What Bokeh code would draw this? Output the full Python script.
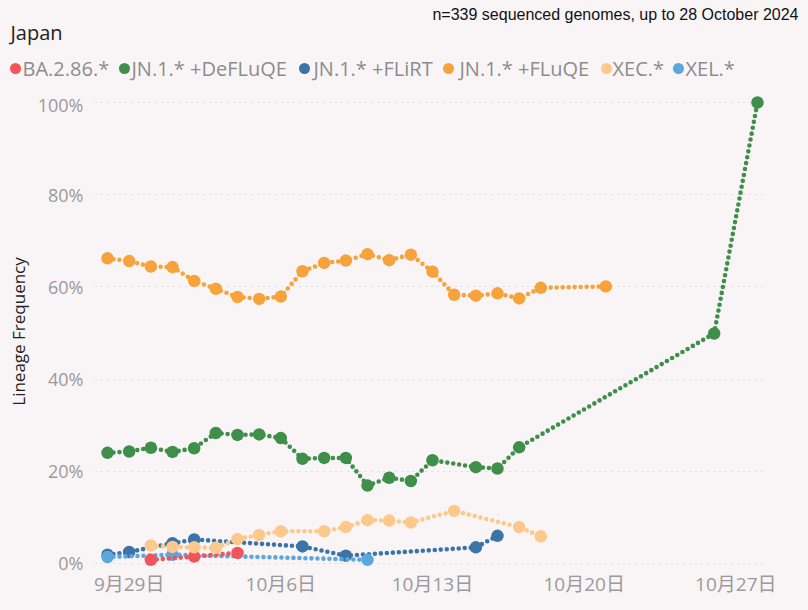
import pandas as pd
from bokeh.plotting import figure
from bokeh.layouts import column
from bokeh.models import Range1d, FixedTicker, CustomJSTickFormatter, PrintfTickFormatter
from bokeh.core.properties import value
from bokeh.embed import file_html
from bokeh.resources import INLINE

# ---------------- data ----------------
lineages = ["BA.2.86.*", "JN.1.* +DeFLuQE", "JN.1.* +FLiRT", "JN.1.* +FLuQE", "XEC.*", "XEL.*"]
colors = ["#f2545b", "#3f8f4a", "#3b75a7", "#f6a33c", "#fcc98b", "#5ba7de"]

ba286_dates = ["2024-09-30", "2024-10-02", "2024-10-04"]
ba286_vals = [0.8, 1.5, 2.3]

defluqe_dates = ["2024-09-28", "2024-09-29", "2024-09-30", "2024-10-01", "2024-10-02", "2024-10-03",
                 "2024-10-04", "2024-10-05", "2024-10-06", "2024-10-07", "2024-10-08", "2024-10-09",
                 "2024-10-10", "2024-10-11", "2024-10-12", "2024-10-13", "2024-10-15", "2024-10-16",
                 "2024-10-17", "2024-10-26", "2024-10-28"]
defluqe_vals = [24.0, 24.3, 25.1, 24.2, 25.0, 28.3, 27.9, 28.0, 27.2, 22.7, 22.9, 22.9,
                16.9, 18.6, 17.9, 22.4, 20.9, 20.6, 25.2, 49.9, 100.0]

flirt_dates = ["2024-09-28", "2024-09-29", "2024-10-01", "2024-10-02", "2024-10-07", "2024-10-09",
               "2024-10-15", "2024-10-16"]
flirt_vals = [1.9, 2.5, 4.4, 5.2, 3.7, 1.7, 3.5, 6.0]

fluqe_dates = ["2024-09-28", "2024-09-29", "2024-09-30", "2024-10-01", "2024-10-02", "2024-10-03",
               "2024-10-04", "2024-10-05", "2024-10-06", "2024-10-07", "2024-10-08", "2024-10-09",
               "2024-10-10", "2024-10-11", "2024-10-12", "2024-10-13", "2024-10-14", "2024-10-15",
               "2024-10-16", "2024-10-17", "2024-10-18", "2024-10-21"]
fluqe_vals = [66.2, 65.6, 64.4, 64.3, 61.3, 59.6, 57.8, 57.4, 57.9, 63.4, 65.2, 65.7,
              67.1, 65.8, 67.0, 63.3, 58.3, 58.1, 58.6, 57.5, 59.8, 60.1]

xec_dates = ["2024-09-30", "2024-10-01", "2024-10-02", "2024-10-03", "2024-10-04", "2024-10-05",
             "2024-10-06", "2024-10-08", "2024-10-09", "2024-10-10", "2024-10-11", "2024-10-12",
             "2024-10-14", "2024-10-17", "2024-10-18"]
xec_vals = [3.9, 3.6, 3.5, 3.4, 5.3, 6.2, 7.0, 7.0, 7.9, 9.4, 9.3, 8.9, 11.4, 7.9, 5.9]

xel_dates = ["2024-09-28", "2024-10-01", "2024-10-10"]
xel_vals = [1.4, 1.9, 0.8]

tick_dates = ["2024-09-29", "2024-10-06", "2024-10-13", "2024-10-20", "2024-10-27"]
tick_labels = ["9月29日", "10月6日", "10月13日", "10月20日", "10月27日"]
y_ticks = [0, 20, 40, 60, 80, 100]

title_text = "Japan"
note_text = "n=339 sequenced genomes, up to 28 October 2024"
y_title = "Lineage Frequency"

series = {
    "BA.2.86.*": (ba286_dates, ba286_vals),
    "JN.1.* +DeFLuQE": (defluqe_dates, defluqe_vals),
    "JN.1.* +FLiRT": (flirt_dates, flirt_vals),
    "JN.1.* +FLuQE": (fluqe_dates, fluqe_vals),
    "XEC.*": (xec_dates, xec_vals),
    "XEL.*": (xel_dates, xel_vals),
}
draw_order = ["JN.1.* +FLiRT", "XEL.*", "BA.2.86.*", "XEC.*", "JN.1.* +FLuQE", "JN.1.* +DeFLuQE"]

BG = "#f9f5f7"
W = 808
HEAD_H = 92

# ---------------- header (title, note, legend) ----------------
head = figure(width=W, height=HEAD_H, output_backend="svg", toolbar_location=None,
              x_range=Range1d(0, W), y_range=Range1d(HEAD_H, 0),
              x_axis_location=None, y_axis_location=None, min_border=0,
              background_fill_color=BG, border_fill_color=BG, outline_line_color=None)
head.xgrid.visible = False
head.ygrid.visible = False

head.text(x=[798], y=[14], text=[note_text], text_align="right", text_baseline="middle",
          text_font=value("Liberation Sans"), text_font_size="16px", text_color="#111111")
head.text(x=[10], y=[32], text=[title_text], text_align="left", text_baseline="middle",
          text_font=value("Open Sans"), text_font_size="20px", text_color="#222222")

dot_x = [15, 124, 304, 448, 606, 678]
text_x = [22, 131, 313, 459, 612, 685]
head.scatter(x=dot_x, y=[68] * len(lineages), size=11, fill_color=colors, line_color=None)
head.text(x=text_x, y=[68] * len(lineages), text=lineages, text_align="left", text_baseline="middle",
          text_font=value("Open Sans"), text_font_size="20px", text_color="#8c8c8c")

# ---------------- main plot ----------------
FL, FW, FH = 95, 672, 478

x0 = pd.Timestamp("2024-09-28") - pd.Timedelta(hours=13.3)
x1 = pd.Timestamp("2024-10-28") + pd.Timedelta(hours=11.1)

p = figure(frame_width=FW, frame_height=FH, x_axis_type="datetime", output_backend="svg",
           toolbar_location=None, x_range=Range1d(x0, x1), y_range=Range1d(-1.52, 102.17),
           min_border_left=FL, min_border_right=W - FL - FW, min_border_top=0, min_border_bottom=40,
           background_fill_color=BG, border_fill_color=BG, outline_line_color=None)

for name in draw_order:
    d, v = series[name]
    c = colors[lineages.index(name)]
    xs = pd.to_datetime(d)
    p.line(xs, v, line_color=c, line_width=4.6, line_dash="0 6", line_cap="round")
    p.scatter(xs, v, size=12.5, fill_color=c, line_color=None)

tick_ms = [int(pd.Timestamp(t).value // 10**6) for t in tick_dates]
p.xaxis.ticker = FixedTicker(ticks=tick_ms)
p.xaxis.formatter = CustomJSTickFormatter(args=dict(tvals=tick_ms, tlabels=tick_labels), code="""
let best = 0;
for (let i = 0; i < tvals.length; i++) {
  if (Math.abs(tvals[i] - tick) < Math.abs(tvals[best] - tick)) best = i;
}
return tlabels[best];
""")
p.yaxis.ticker = FixedTicker(ticks=y_ticks)
p.yaxis.formatter = PrintfTickFormatter(format="%d%%")

for ax in (p.xaxis, p.yaxis):
    ax.axis_line_color = None
    ax.major_tick_line_color = None
    ax.minor_tick_line_color = None
    ax.major_tick_out = 0
    ax.major_tick_in = 0
    ax.major_label_text_color = "#9a9a9a"

p.xaxis.major_label_text_font = "'Open Sans', 'Noto Sans CJK JP'"
p.xaxis.major_label_text_font_size = "19px"
p.xaxis.major_label_standoff = 0
p.yaxis.major_label_text_font = "Open Sans"
p.yaxis.major_label_text_font_size = "18px"
p.yaxis.major_label_standoff = 12
p.yaxis.axis_label = y_title
p.yaxis.axis_label_text_font = "Open Sans"
p.yaxis.axis_label_text_font_size = "17px"
p.yaxis.axis_label_text_font_style = "normal"
p.yaxis.axis_label_text_color = "#222222"
p.yaxis.axis_label_standoff = 5

p.xgrid.grid_line_color = None
p.ygrid.grid_line_color = "#c4c4c4"
p.ygrid.grid_line_dash = "1 5"
p.ygrid.grid_line_width = 1

layout = column(column(head), column(p), spacing=0)
html = file_html(layout, INLINE)
html = html.replace("<body>", '<body style="background-color:%s;">' % BG)
open("out.html", "w").write(html)
